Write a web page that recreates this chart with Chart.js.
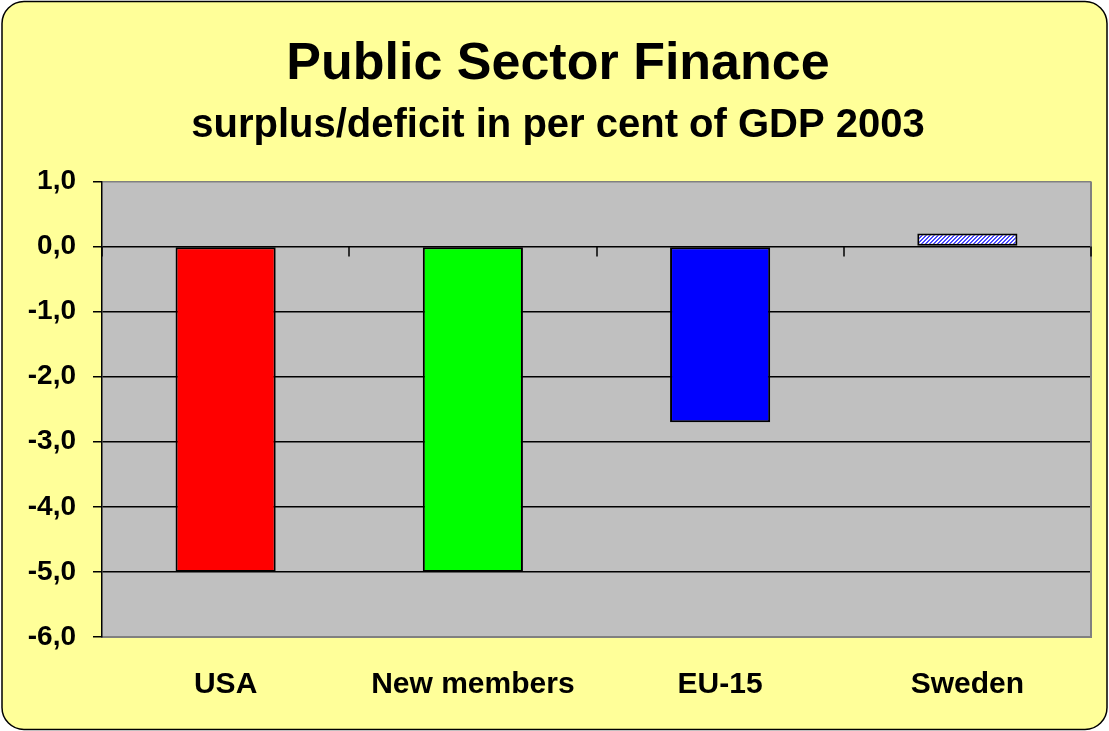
<!DOCTYPE html>
<html>
<head>
<meta charset="utf-8">
<title>Public Sector Finance</title>
<script src="https://cdn.jsdelivr.net/npm/chart.js@4.4.1/dist/chart.umd.min.js"></script>
<style>
    html, body { margin: 0; padding: 0; background: #ffffff; }
    #wrap { width: 1109px; height: 731px; position: relative; }
</style>
</head>
<body>
<div id="wrap"><canvas id="chart"></canvas></div>
<script>
// Budget balance 2003, per cent of GDP
const regions = ['USA', 'New members', 'EU-15', 'Sweden'];
const balance = [-5.0, -5.0, -2.7, 0.2];
const yTicks = [1, 0, -1, -2, -3, -4, -5, -6];

const FONT = 'Arial, "Liberation Sans", sans-serif';

// light blue diagonal hatch used for the Sweden bar
function makeHatch() {
    const c = document.createElement('canvas');
    c.width = 4;
    c.height = 4;
    const g = c.getContext('2d');
    for (let x = 0; x < 4; x++) {
        for (let y = 0; y < 4; y++) {
            g.fillStyle = ((x + y) % 4) < 2 ? '#4a4aff' : '#ffffff';
            g.fillRect(x, y, 1, 1);
        }
    }
    return g.createPattern(c, 'repeat');
}

const ctx = document.getElementById('chart').getContext('2d');
const barColors = ['#ff0000', '#00ff00', '#0000ff', makeHatch()];

// yellow rounded panel + grey plot area behind everything
const panelPlugin = {
    id: 'panel',
    beforeDraw(chart) {
        const c = chart.ctx;
        const a = chart.chartArea;
        c.save();
        c.fillStyle = '#ffffff';
        c.fillRect(0, 0, chart.width, chart.height);
        c.beginPath();
        c.roundRect(2, 1.5, chart.width - 4, chart.height - 3, 22);
        c.fillStyle = '#ffff99';
        c.fill();
        c.lineWidth = 1.5;
        c.strokeStyle = '#000000';
        c.stroke();
        c.fillStyle = '#c0c0c0';
        c.fillRect(a.left, a.top, a.right - a.left, a.bottom - a.top);
        c.restore();
    },
    afterDraw(chart) {
        const c = chart.ctx;
        const a = chart.chartArea;
        const x = chart.scales.x;
        const y0 = chart.scales.y.getPixelForValue(0);
        c.save();
        // right border of the plot area
        c.strokeStyle = '#808080';
        c.lineWidth = 2;
        c.beginPath();
        c.moveTo(a.right, a.top);
        c.lineTo(a.right, a.bottom);
        c.stroke();
        // category tick marks hang from the zero line
        c.strokeStyle = '#000000';
        c.lineWidth = 1.5;
        const step = x.getPixelForValue(1) - x.getPixelForValue(0);
        for (let i = 0; i <= regions.length; i++) {
            const px = Math.round(x.getPixelForValue(0) - step / 2 + i * step);
            c.beginPath();
            c.moveTo(px, y0);
            c.lineTo(px, y0 + 10);
            c.stroke();
        }
        c.restore();
    }
};

new Chart(ctx, {
    type: 'bar',
    data: {
        labels: regions,
        datasets: [{
            data: balance,
            backgroundColor: barColors,
            borderColor: '#000000',
            borderWidth: 2,
            borderSkipped: false,
            categoryPercentage: 1.0,
            barPercentage: 0.405
        }]
    },
    options: {
        responsive: true,
        maintainAspectRatio: false,
        animation: false,
        layout: {
            padding: { left: 7, right: 0, top: 0, bottom: 0 }
        },
        plugins: {
            legend: { display: false },
            tooltip: { enabled: false },
            title: {
                display: true,
                text: 'Public Sector Finance',
                color: '#000000',
                font: { family: FONT, size: 52, weight: 'bold' },
                padding: { top: 33, bottom: 7 }
            },
            subtitle: {
                display: true,
                text: 'surplus/deficit in per cent of GDP 2003',
                color: '#000000',
                font: { family: FONT, size: 40, weight: 'bold' },
                padding: { top: 0, bottom: 31 }
            }
        },
        scales: {
            x: {
                grid: { display: false, drawTicks: false },
                border: { display: true, color: '#808080', width: 2 },
                ticks: {
                    color: '#000000',
                    font: { family: FONT, size: 30, weight: 'bold' },
                    padding: 30,
                    maxRotation: 0
                },
                afterFit(scale) { scale.height = 94; }
            },
            y: {
                min: -6,
                max: 1,
                afterBuildTicks(scale) {
                    scale.ticks = yTicks.map(v => ({ value: v }));
                },
                grid: {
                    color: (c) => (c.tick && (c.tick.value === 1 || c.tick.value === -6)) ? '#808080' : '#000000',
                    lineWidth: 1.5,
                    tickLength: 9,
                    tickColor: '#000000'
                },
                border: { display: true, color: '#000000', width: 1.5 },
                ticks: {
                    color: '#000000',
                    font: { family: FONT, size: 28, weight: 'bold' },
                    padding: 17,
                    callback: (v) => Number(v).toFixed(1).replace('.', ',')
                },
                afterFit(scale) { scale.width = 95; }
            },
            // empty right-hand margin so the plot stops short of the panel edge
            yRight: {
                position: 'right',
                min: -6,
                max: 1,
                grid: { display: false, drawTicks: false },
                border: { display: false },
                ticks: { display: false },
                afterFit(scale) { scale.width = 18; }
            }
        }
    },
    plugins: [panelPlugin]
});
</script>
</body>
</html>
